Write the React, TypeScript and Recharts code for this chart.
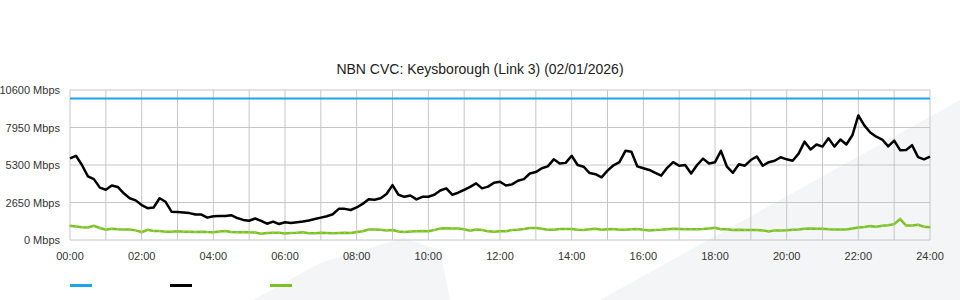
import { LineChart, Line, XAxis, YAxis, CartesianGrid } from "recharts"

// 10 minute samples, 00:00 -> 24:00
const SAMPLE_MINUTES = 10
const CAPACITY = 10000

const inbound = [
  5770, 5950, 5300, 4500, 4300, 3700,
  3550, 3850, 3750, 3300, 2950, 2800,
  2470, 2250, 2300, 2950, 2700, 2000,
  1980, 1950, 1900, 1800, 1800, 1580,
  1680, 1700, 1700, 1750, 1550, 1420,
  1360, 1520, 1350, 1150, 1300, 1130,
  1250, 1200, 1260, 1310, 1380, 1480,
  1580, 1680, 1820, 2200, 2200, 2120,
  2300, 2550, 2880, 2850, 2950, 3250,
  3880, 3200, 3050, 3150, 2870, 3050,
  3060, 3200, 3500, 3650, 3200, 3340,
  3550, 3750, 4000, 3650, 3770, 4050,
  4120, 3850, 3930, 4190, 4300, 4700,
  4800, 5070, 5200, 5700, 5400, 5450,
  5950, 5300, 5180, 4730, 4650, 4430,
  4900, 5280, 5500, 6300, 6240, 5200,
  5070, 4950, 4750, 4550, 5100, 5500,
  5250, 5300, 4700, 5300, 5750, 5400,
  5500, 6300, 5180, 4750, 5350, 5250,
  5650, 5900, 5250, 5500, 5600, 5850,
  5700, 5600, 6100, 6950, 6400, 6750,
  6600, 7190, 6600, 7100, 6750, 7400,
  8800, 8100, 7600, 7300, 7100, 6620,
  7020, 6350, 6360, 6700, 5860, 5700,
  5890,
]

const outbound = [
  1010, 950, 900, 880, 1000, 850,
  720, 800, 760, 740, 740, 680,
  560, 720, 640, 640, 580, 580,
  620, 590, 580, 560, 590, 560,
  540, 600, 640, 560, 550, 560,
  540, 530, 440, 500, 520, 510,
  460, 500, 510, 540, 480, 470,
  520, 500, 470, 500, 520, 500,
  570, 620, 740, 740, 720, 680,
  700, 600, 560, 600, 620, 640,
  620, 700, 820, 830, 820, 820,
  760, 650, 740, 700, 610, 580,
  620, 620, 700, 720, 780, 850,
  850, 800, 720, 720, 770, 780,
  770, 720, 700, 760, 800, 720,
  760, 770, 730, 720, 760, 780,
  720, 680, 700, 720, 760, 800,
  780, 760, 760, 760, 780, 820,
  860, 760, 760, 700, 720, 700,
  700, 700, 680, 600, 680, 680,
  690, 720, 740, 800, 820, 800,
  800, 760, 740, 740, 750, 820,
  880, 920, 980, 940, 1000, 1040,
  1120, 1480, 1020, 1020, 1080, 940,
  900,
]

const yTicks = [0, 2650, 5300, 7950, 10600]
const hourTicks = Array.from({ length: 25 }, (_, h) => h * 60)

const series = [
  { key: "capacity", color: "#1ba5e8" },
  { key: "inbound", color: "#000000" },
  { key: "outbound", color: "#7cc225" },
]

const rows = inbound.map((v, i) => ({
  minute: i * SAMPLE_MINUTES,
  capacity: CAPACITY,
  inbound: v,
  outbound: outbound[i],
}))

const fmtHour = (m: number) => {
  const h = m / 60
  if (h % 2 !== 0) return ""
  return String(h).padStart(2, "0") + ":00"
}

const font = "'Liberation Sans', Arial, sans-serif"

const YTick = ({ x, y, payload }: any) => (
  <text x={x} y={y} dy={4} textAnchor="end" fontSize={11} fill="#333" fontFamily={font}>
    {`${payload.value} Mbps`}
  </text>
)

export default function App() {
  return (
    <div style={{ position: "absolute", left: 0, top: 0, width: 960, height: 300, background: "#fff", fontFamily: font, overflow: "hidden" }}>
      <svg width={960} height={300} style={{ position: "absolute", left: 0, top: 0 }}>
        <polygon points="253,300 320,263 403,238 440,250 450,300" fill="#f4f5f7" />
        <polygon points="600,300 960,100 960,300" fill="#f4f5f7" />
      </svg>

      <div style={{ position: "absolute", top: 61, width: 960, textAlign: "center", fontSize: 14, color: "#222" }}>
        NBN CVC: Keysborough (Link 3) (02/01/2026)
      </div>

      <div style={{ position: "absolute", left: 0, top: 0 }}>
        <LineChart width={960} height={300} data={rows} margin={{ top: 90, right: 30, bottom: 30, left: 0 }}>
          <CartesianGrid stroke="#c6c6c6" strokeWidth={1} />
          <XAxis
            dataKey="minute"
            type="number"
            domain={[0, 1440]}
            ticks={hourTicks}
            interval={0}
            tickFormatter={fmtHour}
            axisLine={false}
            tickLine={false}
            tickMargin={6}
            height={30}
            tick={{ fontSize: 11, fill: "#333", fontFamily: font }}
          />
          <YAxis
            domain={[0, 10600]}
            ticks={yTicks}
            interval={0}
            axisLine={false}
            tickLine={false}
            tickMargin={4}
            width={70}
            tick={<YTick />}
          />
          <Line dataKey="capacity" stroke={series[0].color} strokeWidth={2} dot={false} isAnimationActive={false} />
          <Line dataKey="outbound" stroke={series[2].color} strokeWidth={2.5} dot={{ r: 1, fill: "#9ccf55", stroke: "none" }} isAnimationActive={false} />
          <Line dataKey="inbound" stroke={series[1].color} strokeWidth={2.5} strokeLinejoin="round" dot={false} isAnimationActive={false} />
        </LineChart>
      </div>

      {series.map((s, i) => (
        <div key={s.key} style={{ position: "absolute", left: 70 + i * 100, top: 284, width: 22, height: 3, background: s.color }} />
      ))}
    </div>
  )
}
